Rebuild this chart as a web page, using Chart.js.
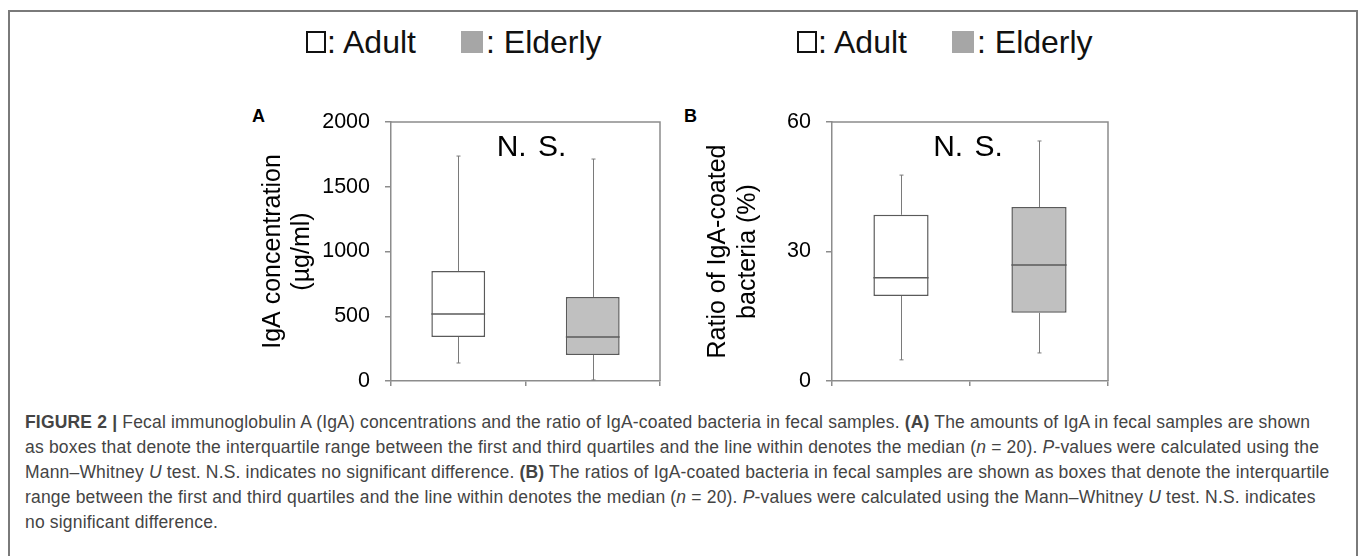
<!DOCTYPE html>
<html>
<head>
<meta charset="utf-8">
<script src="https://cdn.jsdelivr.net/npm/chart.js@4/dist/chart.umd.min.js"></script>
<style>
  body { margin: 0; background: #fff; width: 1360px; height: 556px; overflow: hidden; position: relative; font-family: "Liberation Sans", Arial, sans-serif; }
  .frame { position: absolute; left: 8px; top: 10px; width: 1346px; height: 600px; border: 2px solid #7a7a7a; border-bottom: none; }
  canvas { position: absolute; }
  .legend { position: absolute; top: 26px; font-size: 32px; color: #111; line-height: 32px; white-space: nowrap; }
  .legend span { position: absolute; top: 0; }
  .sw { position: absolute; top: 5px; box-sizing: border-box; }
  .sw.adult { width: 20px; height: 22px; border: 2px solid #111; background: #fff; }
  .sw.elderly { width: 22px; height: 22px; background: #a6a6a6; }
  .panel { position: absolute; top: 106px; font-weight: bold; font-size: 18px; color: #000; }
  .caption { position: absolute; left: 25px; top: 410px; font-size: 17.5px; letter-spacing: 0.18px; line-height: 25px; color: #444; white-space: nowrap; }
</style>
</head>
<body>
<div class="frame"></div>

<div class="legend" style="left:306px">
  <div class="sw adult" style="left:0"></div><span style="left:21px">: Adult</span>
  <div class="sw elderly" style="left:155px"></div><span style="left:180px">: Elderly</span>
</div>
<div class="legend" style="left:797px">
  <div class="sw adult" style="left:0"></div><span style="left:21px">: Adult</span>
  <div class="sw elderly" style="left:155px"></div><span style="left:180px">: Elderly</span>
</div>

<div class="panel" style="left:252px">A</div>
<div class="panel" style="left:684px">B</div>

<canvas id="chartA" width="430" height="300" style="left:240px; top:100px"></canvas>
<canvas id="chartB" width="438" height="300" style="left:680px; top:100px"></canvas>

<div class="caption">
<div><b>FIGURE 2 |</b> Fecal immunoglobulin A (IgA) concentrations and the ratio of IgA-coated bacteria in fecal samples. <b>(A)</b> The amounts of IgA in fecal samples are shown</div>
<div>as boxes that denote the interquartile range between the first and third quartiles and the line within denotes the median (<i>n</i> = 20). <i>P</i>-values were calculated using the</div>
<div>Mann–Whitney <i>U</i> test. N.S. indicates no significant difference. <b>(B)</b> The ratios of IgA-coated bacteria in fecal samples are shown as boxes that denote the interquartile</div>
<div>range between the first and third quartiles and the line within denotes the median (<i>n</i> = 20). <i>P</i>-values were calculated using the Mann–Whitney <i>U</i> test. N.S. indicates</div>
<div>no significant difference.</div>
</div>

<script>
// groups
const groups = ['Adult', 'Elderly'];

// A: IgA concentration (ug/ml)
const igaMin = [139, 8];
const igaQ1 = [340, 201];
const igaMedian = [517, 340];
const igaQ3 = [849, 649];
const igaMax = [1737, 1714];
const igaTicks = [0, 500, 1000, 1500, 2000];

// B: ratio of IgA-coated bacteria (%)
const ratioMin = [4.9, 6.5];
const ratioQ1 = [19.7, 15.8];
const ratioMedian = [23.9, 26.9];
const ratioQ3 = [38.5, 40.3];
const ratioMax = [47.7, 55.6];
const ratioTicks = [0, 30, 60];

const boxFill = ['#ffffff', '#c0c0c0'];
const axisGray = '#8c8c8c';
const FONT = '"Liberation Sans", Arial, sans-serif';

// whiskers, medians, frame and the N. S. note
const boxExtras = {
    id: 'boxExtras',
    afterDatasetsDraw(chart, args, opts) {
        let ctx = chart.ctx;
        let a = chart.chartArea;
        let x = chart.scales.x, y = chart.scales.y;
        ctx.save();

        // top and right edge of the plot frame
        ctx.strokeStyle = axisGray;
        ctx.lineWidth = 1.5;
        ctx.beginPath();
        ctx.moveTo(a.left, a.top);
        ctx.lineTo(a.right, a.top);
        ctx.lineTo(a.right, a.bottom);
        ctx.stroke();

        for (let i = 0; i < groups.length; i++) {
            let cx = Math.round(x.getPixelForValue(i)) + 0.5;
            let bar = chart.getDatasetMeta(i).data[i];
            let half = bar.width / 2;

            ctx.strokeStyle = '#7a7a7a';
            ctx.lineWidth = 1;
            ctx.beginPath();
            ctx.moveTo(cx, y.getPixelForValue(opts.max[i]));
            ctx.lineTo(cx, y.getPixelForValue(opts.q3[i]));
            ctx.moveTo(cx, y.getPixelForValue(opts.q1[i]));
            ctx.lineTo(cx, y.getPixelForValue(opts.min[i]));
            // tiny caps
            ctx.moveTo(cx - 2, y.getPixelForValue(opts.max[i]));
            ctx.lineTo(cx + 2, y.getPixelForValue(opts.max[i]));
            ctx.moveTo(cx - 2, y.getPixelForValue(opts.min[i]));
            ctx.lineTo(cx + 2, y.getPixelForValue(opts.min[i]));
            ctx.stroke();

            ctx.strokeStyle = '#5a5a5a';
            ctx.lineWidth = 1.5;
            ctx.beginPath();
            let my = y.getPixelForValue(opts.median[i]);
            ctx.moveTo(bar.x - half, my);
            ctx.lineTo(bar.x + half, my);
            ctx.stroke();
        }

        ctx.fillStyle = '#000';
        ctx.font = '30px ' + FONT;
        ctx.textAlign = 'center';
        ctx.textBaseline = 'middle';
        if ('wordSpacing' in ctx) ctx.wordSpacing = '3px';
        ctx.fillText(opts.note, (a.left + a.right) / 2 + opts.noteShift, 48);
        ctx.restore();
    }
};

function makeBoxChart(id, stats, ticks, yMax, title, axisWidth, titlePad, titleLine, padRight, noteShift) {
    let ctx = document.getElementById(id).getContext('2d');
    let datasets = groups.map((g, i) => ({
        label: g,
        data: groups.map((_, j) => j === i ? [stats.q1[i], stats.q3[i]] : null),
        backgroundColor: boxFill[i],
        borderColor: '#5a5a5a',
        borderWidth: 1.5,
        borderSkipped: false,
        grouped: false,
        categoryPercentage: 0.4,
        barPercentage: 1
    }));

    return new Chart(ctx, {
        type: 'bar',
        data: { labels: groups, datasets: datasets },
        options: {
            responsive: false,
            animation: false,
            events: [],
            layout: { padding: { top: 22, right: padRight, bottom: 9, left: 0 } },
            plugins: {
                legend: { display: false },
                tooltip: { enabled: false },
                boxExtras: Object.assign({ note: 'N. S.', noteShift: noteShift }, stats)
            },
            scales: {
                x: {
                    type: 'category',
                    ticks: { display: false },
                    grid: { offset: true, drawOnChartArea: false, tickLength: 5, color: axisGray, lineWidth: 1.5 },
                    border: { color: axisGray, width: 1.5 },
                    afterFit: s => { s.height = 10; s.paddingLeft = 0; s.paddingRight = 0; }
                },
                y: {
                    min: 0,
                    max: yMax,
                    afterBuildTicks: s => { s.ticks = ticks.map(v => ({ value: v })); },
                    ticks: {
                        color: '#000',
                        padding: 15,
                        font: { size: 21.5, family: FONT },
                        callback: v => String(v)
                    },
                    grid: { drawOnChartArea: false, tickLength: 6, color: axisGray, lineWidth: 1.5 },
                    border: { color: axisGray, width: 1.5 },
                    title: {
                        display: true,
                        text: title,
                        color: '#000',
                        font: { size: 25, family: FONT, lineHeight: titleLine },
                        padding: { top: titlePad, bottom: 0 }
                    },
                    afterFit: s => { s.width = axisWidth; s.paddingTop = 0; s.paddingBottom = 0; }
                }
            }
        },
        plugins: [boxExtras]
    });
}

makeBoxChart('chartA',
    { min: igaMin, q1: igaQ1, median: igaMedian, q3: igaQ3, max: igaMax },
    igaTicks, 2000, ['IgA concentration', '(µg/ml)'], 151, 18.5, 1.16, 10, 6);

makeBoxChart('chartB',
    { min: ratioMin, q1: ratioQ1, median: ratioMedian, q3: ratioQ3, max: ratioMax },
    ratioTicks, 60, ['Ratio of IgA-coated', 'bacteria (%)'], 152, 23, 1.2, 10, -2);
</script>
</body>
</html>
